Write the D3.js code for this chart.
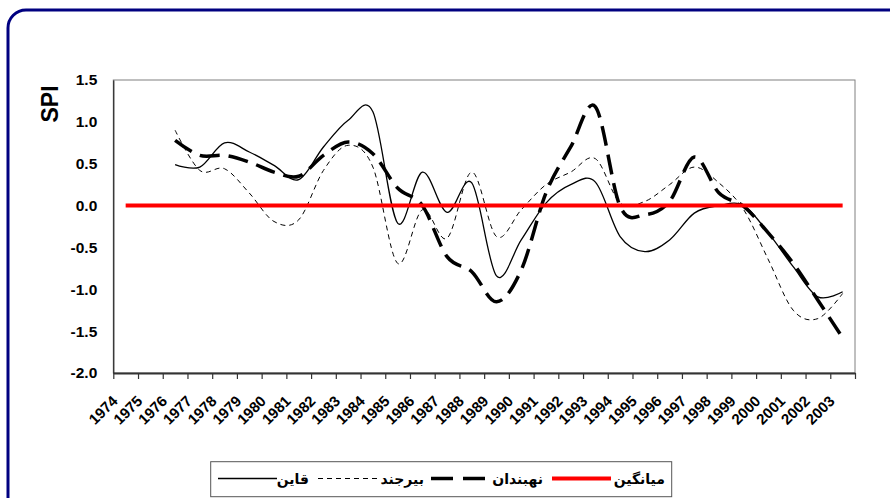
<!DOCTYPE html>
<html lang="fa">
<head>
    <meta charset="UTF-8">
    <title>SPI</title>
    <style>
        body { margin: 0; background: #fff; }
        svg { display: block; }
    </style>
</head>
<body>
<div id="chart"></div>

<script src="https://d3js.org/d3.v7.min.js"></script>

<script>
    // Years on the category axis
    var years = d3.range(1974, 2004).map(String);

    // SPI values per station, 1976 - 2003
    var seriesYears = d3.range(1976, 2004).map(String);
    var qaen = [0.49, 0.46, 0.75, 0.64, 0.48, 0.31, 0.70, 1.02, 1.12, -0.21,
                0.40, -0.08, 0.27, -0.84, -0.41, 0.03, 0.25, 0.28, -0.37, -0.55,
                -0.41, -0.09, 0.00, 0.00, -0.33, -0.73, -1.09, -1.03];
    var birjand = [0.90, 0.42, 0.44, 0.15, -0.19, -0.17, 0.42, 0.72, 0.46, -0.69,
                   -0.05, -0.39, 0.40, -0.37, -0.05, 0.25, 0.40, 0.56, 0.03, 0.05,
                   0.25, 0.46, 0.27, -0.05, -0.65, -1.25, -1.35, -1.05];
    var nehbandan = [0.78, 0.60, 0.60, 0.52, 0.40, 0.35, 0.60, 0.76, 0.62, 0.21,
                     0.00, -0.61, -0.79, -1.15, -0.77, 0.15, 0.70, 1.18, -0.01, -0.11,
                     0.05, 0.58, 0.15, -0.01, -0.33, -0.69, -1.13, -1.58];
    // mean line, 1974 - 2003
    var meanLine = [0, 0, 0, 0, 0, 0, 0, 0, 0, 0, 0, 0, 0, 0, 0,
                    0, 0, 0, 0, 0, 0, 0, 0, 0, 0, 0, 0, 0, 0, 0];

    var yTicks = [-2.0, -1.5, -1.0, -0.5, 0.0, 0.5, 1.0, 1.5];

    var legendNames = ["قاین", "بیرجند", "نهبندان", "میانگین"];

    var width = 890, height = 498;
    var plot = {left: 113.3, right: 855, top: 80, bottom: 373};

    var svg = d3.select("#chart").append("svg")
        .attr("width", width)
        .attr("height", height);

    // outer rounded frame
    svg.append("rect")
        .attr("x", 8).attr("y", 10)
        .attr("width", 920).attr("height", 520)
        .attr("rx", 18).attr("ry", 18)
        .attr("fill", "#fff")
        .attr("stroke", "#000080")
        .attr("stroke-width", 3);

    var x = d3.scaleBand().domain(years).range([plot.left, plot.right]).padding(0);
    var xEdge = d3.scaleLinear().domain([0, years.length]).range([plot.left, plot.right]);
    var y = d3.scaleLinear().domain([-2, 1.5]).range([plot.bottom, plot.top]);

    // plot area border
    svg.append("rect")
        .attr("x", plot.left).attr("y", plot.top)
        .attr("width", plot.right - plot.left).attr("height", plot.bottom - plot.top)
        .attr("fill", "none")
        .attr("stroke", "#808080")
        .attr("stroke-width", 1);

    // y axis
    var yAxis = svg.append("g")
        .attr("transform", "translate(" + plot.left + ",0)")
        .call(d3.axisLeft(y).tickValues(yTicks).tickSize(0).tickPadding(16)
            .tickFormat(function (d) { return d.toFixed(1); }));
    yAxis.select(".domain").attr("stroke", "#222").attr("stroke-width", 1.2);
    yAxis.selectAll("text")
        .attr("font-family", "'Liberation Sans', Arial, sans-serif")
        .attr("font-weight", "bold")
        .attr("font-size", "15.5px")
        .attr("fill", "#000");

    // x axis: tick marks between categories
    var xAxis = svg.append("g")
        .attr("transform", "translate(0," + plot.bottom + ")")
        .call(d3.axisBottom(xEdge).tickValues(d3.range(years.length + 1))
            .tickSize(6).tickSizeOuter(0).tickFormat(""));
    xAxis.select(".domain").attr("stroke", "#333").attr("stroke-width", 1.8);
    xAxis.selectAll(".tick line").attr("stroke", "#333").attr("stroke-width", 1.2);

    // rotated year labels
    svg.append("g").selectAll("text")
        .data(years)
        .join("text")
        .attr("transform", function (d) {
            return "translate(" + (x(d) + x.bandwidth() / 2 - 7) + "," + (plot.bottom + 29) + ") rotate(-45)";
        })
        .attr("text-anchor", "end")
        .attr("font-family", "'Liberation Sans', Arial, sans-serif")
        .attr("font-weight", "bold")
        .attr("font-size", "15px")
        .text(function (d) { return d; });

    // y title
    svg.append("text")
        .attr("transform", "translate(58,104) rotate(-90)")
        .attr("text-anchor", "middle")
        .attr("font-family", "'Liberation Sans', Arial, sans-serif")
        .attr("font-weight", "bold")
        .attr("font-size", "23px")
        .text("SPI");

    var line = d3.line()
        .x(function (d) { return x(d[0]) + x.bandwidth() / 2; })
        .y(function (d) { return y(d[1]); })
        .curve(d3.curveCardinal.tension(0));

    function pairs(keys, vals) {
        return keys.map(function (k, i) { return [k, vals[i]]; });
    }

    var styles = [
        {data: pairs(seriesYears, qaen), stroke: "#000", width: 1.3, dash: null},
        {data: pairs(seriesYears, birjand), stroke: "#000", width: 1, dash: "5,4"},
        {data: pairs(seriesYears, nehbandan), stroke: "#000", width: 3.5, dash: "20,9"},
        {data: pairs(years, meanLine), stroke: "#ff0000", width: 4, dash: null}
    ];

    // red mean line goes last so it sits on top
    styles.forEach(function (s) {
        svg.append("path")
            .datum(s.data)
            .attr("d", line)
            .attr("fill", "none")
            .attr("stroke", s.stroke)
            .attr("stroke-width", s.width)
            .attr("stroke-dasharray", s.dash);
    });

    // legend box
    var legend = svg.append("g");
    legend.append("rect")
        .attr("x", 210.7).attr("y", 461.7)
        .attr("width", 461).attr("height", 35)
        .attr("fill", "#fff")
        .attr("stroke", "#555")
        .attr("stroke-width", 1);

    // sample line start/end and text right edge for each entry
    var legendPos = [
        {x1: 218, x2: 277, tx: 309},
        {x1: 318, x2: 377, tx: 424},
        {x1: 431, x2: 486, tx: 543},
        {x1: 552, x2: 611, tx: 665}
    ];
    legendPos.forEach(function (p, i) {
        legend.append("line")
            .attr("x1", p.x1).attr("x2", p.x2)
            .attr("y1", 478.5).attr("y2", 478.5)
            .attr("stroke", styles[i].stroke)
            .attr("stroke-width", styles[i].width)
            .attr("stroke-dasharray", i === 2 ? "22,10" : styles[i].dash);
        legend.append("text")
            .attr("x", p.tx).attr("y", 483.5)
            .attr("text-anchor", "end")
            .attr("font-family", "'DejaVu Sans', sans-serif")
            .attr("font-weight", "bold")
            .attr("font-size", "14px")
            .text(legendNames[i]);
    });
</script>
</body>
</html>
